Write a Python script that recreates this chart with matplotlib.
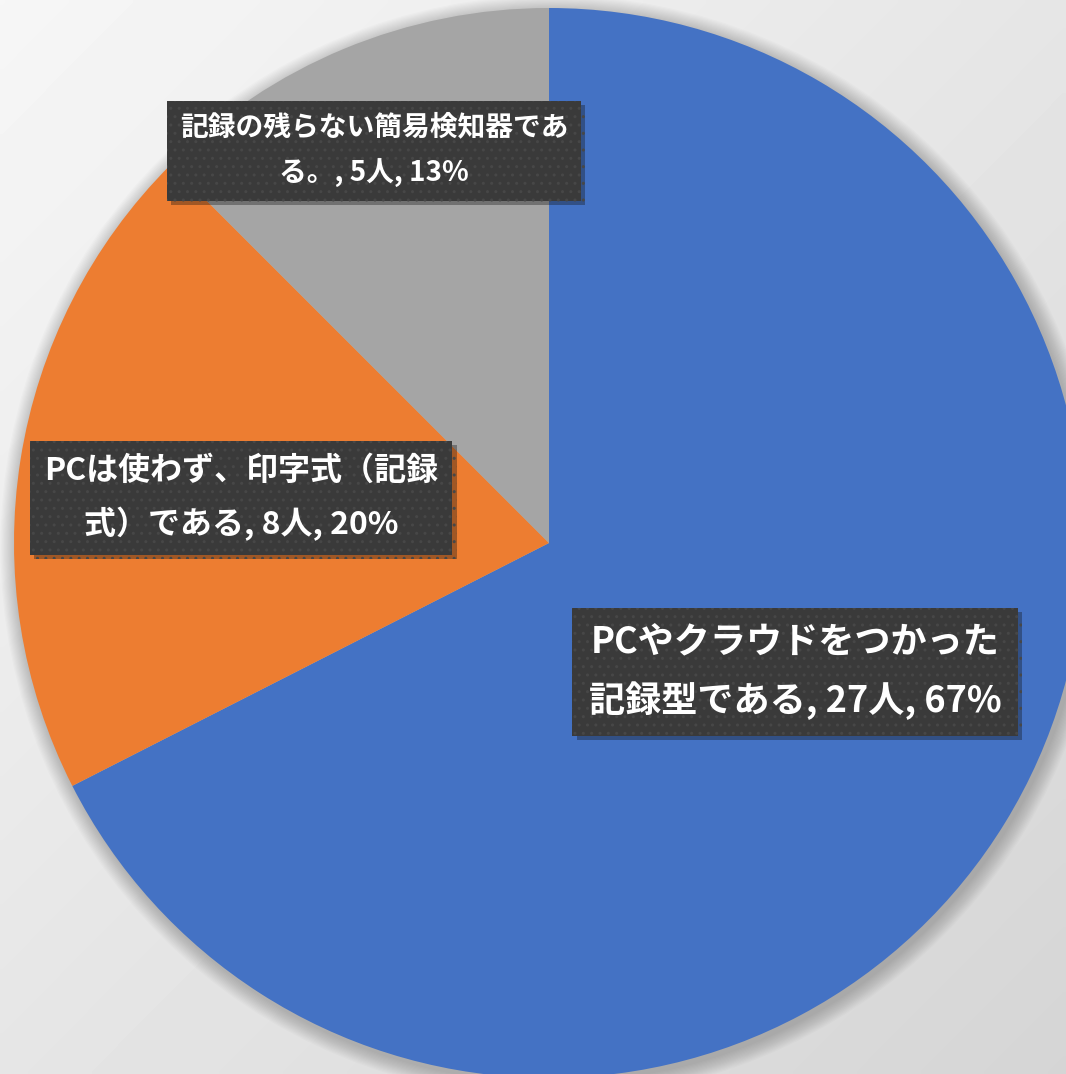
import matplotlib
matplotlib.use("Agg")
import matplotlib.pyplot as plt
import matplotlib.patheffects as pe
from matplotlib.patches import Circle
import numpy as np

plt.rcParams['font.family'] = ['Noto Sans CJK JP', 'DejaVu Sans']

# ---- data ----
categories = ["PCやクラウドをつかった記録型である",
              "PCは使わず、印字式（記録式）である",
              "記録の残らない簡易検知器である。"]
values = [27, 8, 5]
percents = [67, 20, 13]
colors = ["#4472C4", "#ED7D31", "#A5A5A5"]

# layout of labels (wrap position in label string, centre px, font size)
wrap_at = [12, 13, 14]
label_pos = [(795, 672), (241, 498), (374, 151)]
label_size = [26, 23, 20]
label_ls = [1.64, 1.7, 1.78]

W, H = 1066, 1074
fig = plt.figure(figsize=(W / 100, H / 100), dpi=100)

# background gradient
bg = fig.add_axes([0, 0, 1, 1])
yy, xx = np.mgrid[0:1:200j, 0:1:200j]
t = (xx + yy) / 2
grad = 0.965 - 0.13 * t
bg.imshow(grad, cmap='gray', vmin=0, vmax=1, extent=[0, 1, 0, 1],
          origin='upper', aspect='auto', interpolation='bilinear')
bg.set_axis_off()

ax = fig.add_axes([0, 0, 1, 1])
ax.set_facecolor('none')
cx, cy, r = 549, H - 543, 535

# soft shadow
for i in range(14):
    ax.add_patch(Circle((cx + 3, cy - 4), r + 1 + i * 1.2, color='black',
                        alpha=0.016, lw=0, zorder=0))

ax.pie(values, colors=colors, startangle=90, counterclock=False,
       center=(cx, cy), radius=r, wedgeprops=dict(linewidth=0),
       frame=False)
ax.set_xlim(0, W)
ax.set_ylim(0, H)
ax.set_axis_off()

plt.rcParams['hatch.linewidth'] = 1.0
for cat, v, p, k, (px, py), fs, ls in zip(categories, values, percents,
                                           wrap_at, label_pos, label_size,
                                           label_ls):
    s = f"{cat}, {v}人, {p}%"
    s = s[:k] + "\n" + s[k:]
    t = ax.text(px, H - py, s, ha='center', va='center', color='white',
                fontsize=fs, fontweight='bold', linespacing=ls,
                bbox=dict(boxstyle='square,pad=0.45', facecolor='#3a3a3a',
                          edgecolor='#474747', linewidth=0, hatch='..'),
                zorder=5)
    t.get_bbox_patch().set_path_effects(
        [pe.SimplePatchShadow(offset=(3, -3), alpha=0.35), pe.Normal()])

fig.savefig("out.png", dpi=100)
